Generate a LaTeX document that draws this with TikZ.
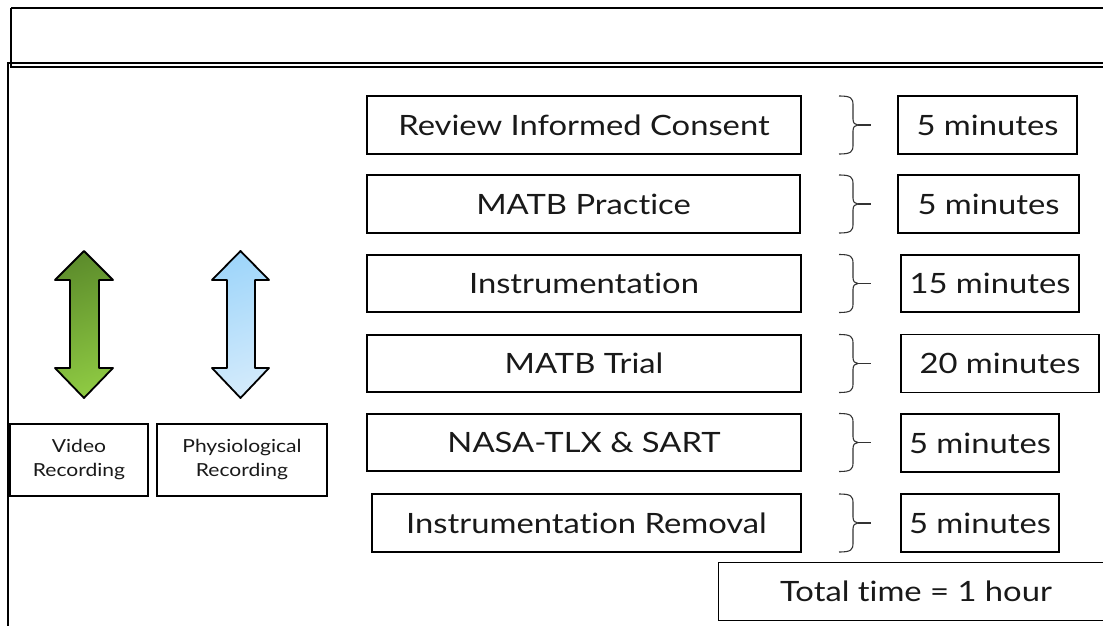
\documentclass[tikz,border=0pt]{standalone}
\usepackage{fontspec}
\setmainfont{Lato}[FakeStretch=1.17,Ligatures=NoCommon]
\begin{document}
\begin{tikzpicture}[x=1pt,y=-1pt,
  stepbox/.style={draw=black,line width=1.4pt,inner sep=0pt,font=\fontsize{28}{32}\selectfont,text=black!90},
  recbox/.style={draw=black,line width=1.4pt,inner sep=0pt,align=center,font=\fontsize{18}{24}\selectfont,text=black!90},
  frame/.style={draw=black,line width=1.8pt},
  bracepath/.style={draw=black!80,line width=1.1pt},
  dblarrow/.style={draw=black,line width=1.8pt,line join=round}]
\useasboundingbox (0,0) rectangle (1103,626);
\begin{scope}
\clip (0,0) rectangle (1103,626);
% frames
\draw[frame] (11,8) -- (1120,8);
\draw[frame] (11,8) -- (11,67) -- (1120,67);
\draw[frame] (8,640) -- (8,63) -- (1120,63);
% total box
\node[stepbox,minimum width=400,minimum height=58,anchor=north west] (total) at (718,562) {};
\node[font=\fontsize{28}{32}\selectfont,text=black!90] (totaltext) at (916,591) {Total time = 1 hour};
\end{scope}
% steps
\node[stepbox,minimum width=434,minimum height=58] (b1) at (584,125) {Review Informed Consent};
\node[stepbox,minimum width=433,minimum height=58] (b2) at (583.5,204) {MATB Practice};
\node[stepbox,minimum width=434,minimum height=57] (b3) at (584,283.5) {Instrumentation};
\node[stepbox,minimum width=434,minimum height=57] (b4) at (584,363.5) {MATB Trial};
\node[stepbox,minimum width=434,minimum height=57] (b5) at (584,442.5) {NASA-TLX \& SART};
\node[stepbox,minimum width=429,minimum height=58] (b6) at (586.5,523) {Instrumentation Removal};
% times
\node[stepbox,minimum width=179,minimum height=58] (t1) at (987.5,125) {5 minutes};
\node[stepbox,minimum width=181,minimum height=58] (t2) at (988.5,204) {5 minutes};
\node[stepbox,minimum width=178,minimum height=57] (t3) at (990,283.5) {15 minutes};
\node[stepbox,minimum width=198,minimum height=58] (t4) at (1000,363.5) {20 minutes};
\node[stepbox,minimum width=158,minimum height=58] (t5) at (980,443) {5 minutes};
\node[stepbox,minimum width=158,minimum height=58] (t6) at (980,523) {5 minutes};
% braces
\foreach \yc in {125,204,283.5,363.5,442.5,523}{
  \draw[bracepath] (839,\yc-29) .. controls (851,\yc-29) and (853,\yc-27) .. (853,\yc-20)
    -- (853,\yc-6) .. controls (853,\yc-2) and (855,\yc) .. (858,\yc)
    .. controls (855,\yc) and (853,\yc+2) .. (853,\yc+6)
    -- (853,\yc+20) .. controls (853,\yc+27) and (851,\yc+29) .. (839,\yc+29);
  \draw[bracepath] (858,\yc) -- (871,\yc);
}
% recording boxes
\node[recbox,minimum width=138,minimum height=72] (video) at (79,460) {Video\\Recording};
\node[recbox,minimum width=170,minimum height=72] (physio) at (242,460) {Physiological\\Recording};
% arrows
\definecolor{gdark}{HTML}{5E8E2C}
\definecolor{glight}{HTML}{8DC842}
\definecolor{bdark}{HTML}{A0D6FA}
\definecolor{blight}{HTML}{D2EAFB}
\draw[dblarrow,top color=gdark,bottom color=glight,shading angle=20]
  (84,251) -- (113,280) -- (99,280) -- (99,368) -- (113,368) -- (84,398)
  -- (55,368) -- (70,368) -- (70,280) -- (55,280) -- cycle;
\draw[dblarrow,top color=bdark,bottom color=blight,shading angle=20]
  (240.5,251) -- (269,280) -- (255,280) -- (255,368) -- (269,368) -- (240.5,398)
  -- (212,368) -- (227,368) -- (227,280) -- (212,280) -- cycle;
\end{tikzpicture}
\end{document}
